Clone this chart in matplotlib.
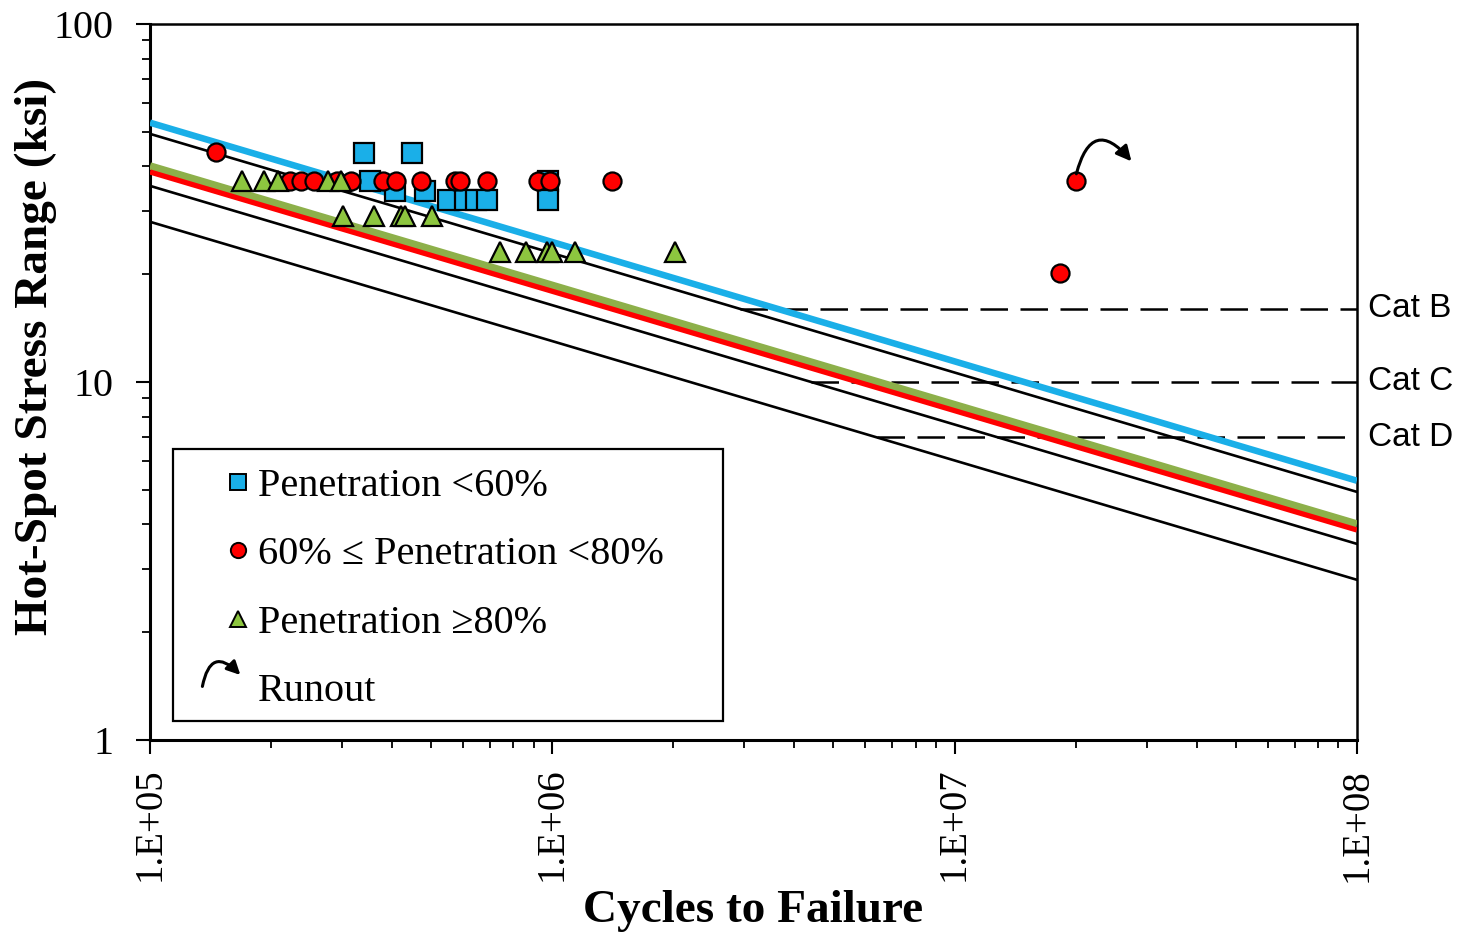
import numpy as np
import matplotlib

matplotlib.use("Agg")
import matplotlib.pyplot as plt  # noqa: E402
from matplotlib.lines import Line2D  # noqa: E402
from matplotlib.patches import Rectangle  # noqa: E402
from matplotlib.ticker import LogLocator, NullFormatter, FixedLocator  # noqa: E402

# ---------------------------------------------------------------- test data
# penetration < 60 %
sq_N = [3.41e5, 4.47e5, 3.52e5, 9.76e5, 4.06e5, 4.83e5,
        5.52e5, 6.07e5, 6.46e5, 6.89e5, 9.77e5]
sq_S = [43.6, 43.6, 36.4, 36.4, 34.2, 34.2,
        32.2, 32.2, 32.2, 32.2, 32.2]

# 60 % <= penetration < 80 %
ci_N = [1.46e5, 2.23e5, 2.38e5, 2.56e5, 2.92e5, 3.16e5, 3.80e5, 4.08e5,
        4.73e5, 5.73e5, 5.90e5, 6.89e5, 9.23e5, 9.87e5, 1.41e6, 1.83e7]
ci_S = [43.9, 36.4, 36.4, 36.4, 36.4, 36.4, 36.4, 36.4,
        36.4, 36.4, 36.4, 36.4, 36.4, 36.4, 36.4, 20.1]

# penetration >= 80 %
tr_N = [1.69e5, 1.92e5, 2.08e5, 2.77e5, 2.98e5,
        3.02e5, 3.61e5, 4.21e5, 4.30e5, 5.01e5,
        7.41e5, 8.61e5, 9.68e5, 9.97e5, 1.14e6, 2.02e6]
tr_S = [36.4, 36.4, 36.4, 36.4, 36.4,
        29.1, 29.1, 29.1, 29.1, 29.1,
        23.1, 23.1, 23.1, 23.1, 23.1, 23.1]

# runout (red circle, did not fail)
run_N = [2.0e7]
run_S = [36.4]

# ------------------------------------------------------------ S-N curves
# AASHTO detail categories: A constant (ksi^3) and CAFL (ksi)
cat_names = ["Cat B", "Cat C", "Cat D"]
cat_A = [120e8, 44e8, 22e8]
cat_cafl = [16.0, 10.0, 7.0]

# fitted curves (stress range at 1e5 cycles, slope 3)
fit_S1e5 = [53.0, 40.1, 38.6]
fit_colors = ["#1AAFE8", "#8DB04A", "#FF0000"]
fit_lw = [4.7, 5.5, 3.8]

N_line = np.array([1e5, 1e8])

fig = plt.figure(figsize=(14.59, 9.36), dpi=100)
ax = fig.add_axes([0.1028, 0.2094, 0.8272, 0.7650])

for A in cat_A:
    ax.plot(N_line, (A / N_line) ** (1 / 3), color="black", lw=1.9, zorder=2)

for S0, c, lw in zip(fit_S1e5, fit_colors, fit_lw):
    A = S0 ** 3 * 1e5
    ax.plot(N_line, (A / N_line) ** (1 / 3), color=c, lw=lw, zorder=3,
            solid_capstyle="butt")

for name, A, cafl in zip(cat_names, cat_A, cat_cafl):
    n0 = A / cafl ** 3
    ax.plot([n0, 1e8], [cafl, cafl], color="black", lw=1.8,
            dashes=(11, 5), zorder=2)
    ax.text(1.065e8, cafl, name, fontsize=24, family="Liberation Sans",
            va="center", ha="left", clip_on=False)

ax.plot(sq_N, sq_S, ls="none", marker="s", ms=14, mfc="#1AAFE8", mec="black",
        mew=1.6, zorder=5)
ax.plot(ci_N + run_N, ci_S + run_S, ls="none", marker="o", ms=13, mfc="#FF0000",
        mec="black", mew=1.6, zorder=6)
ax.plot(tr_N, tr_S, ls="none", marker="^", ms=15, mfc="#8DC63F", mec="black",
        mew=1.6, zorder=7)

# runout arrow
for n, s in zip(run_N, run_S):
    ax.annotate("", xy=(n * 1.39, s * 1.12), xytext=(n, s * 1.03),
                arrowprops=dict(arrowstyle="-|>,head_length=0.9,head_width=0.45",
                                connectionstyle="arc3,rad=-1.0",
                                color="black", lw=2.2), zorder=8)

ax.set_xscale("log")
ax.set_yscale("log")
ax.set_xlim(1e5, 1e8)
ax.set_ylim(1, 100)

ax.xaxis.set_major_locator(FixedLocator([1e5, 1e6, 1e7, 1e8]))
ax.set_xticklabels(["1.E+05", "1.E+06", "1.E+07", "1.E+08"], rotation=90,
                   family="Liberation Serif", fontsize=28)
ax.xaxis.set_minor_locator(LogLocator(base=10, subs=np.arange(2, 10)))
ax.xaxis.set_minor_formatter(NullFormatter())
ax.yaxis.set_major_locator(FixedLocator([1, 10, 100]))
ax.set_yticklabels(["1", "10", "100"], family="Liberation Serif", fontsize=29)
ax.yaxis.set_minor_locator(LogLocator(base=10, subs=np.arange(2, 10)))
ax.yaxis.set_minor_formatter(NullFormatter())

ax.tick_params(which="major", direction="out", length=10, width=1.5)
ax.tick_params(which="minor", direction="out", length=6, width=1.3)
ax.tick_params(axis="y", which="major", pad=16)
ax.tick_params(axis="x", which="major", pad=10)
for side in ["left", "bottom"]:
    ax.spines[side].set_linewidth(2.2)
for side in ["top", "right"]:
    ax.spines[side].set_linewidth(1.8)

ax.set_xlabel("Cycles to Failure", family="Liberation Serif", fontsize=34,
              fontweight="bold", labelpad=6)
ax.set_ylabel("Hot-Spot Stress Range (ksi)", family="Liberation Serif",
              fontsize=34, fontweight="bold")
ax.yaxis.set_label_coords(-0.077, 0.535)

# legend: frame drawn separately so the box is wider than its contents
ax.add_patch(Rectangle((0.019, 0.0265), 0.456, 0.3795, transform=ax.transAxes,
                       facecolor="white", edgecolor="black", lw=1.6, zorder=9))

handles = [
    Line2D([], [], ls="none", marker="s", ms=11, mfc="#1AAFE8", mec="black", mew=1.4),
    Line2D([], [], ls="none", marker="o", ms=11, mfc="#FF0000", mec="black", mew=1.4),
    Line2D([], [], ls="none", marker="^", ms=12, mfc="#8DC63F", mec="black", mew=1.4),
    Line2D([], [], ls="none"),
]
labels = ["Penetration <60%", "60% \u2264 Penetration <80%",
          "Penetration \u226580%", "Runout"]
leg = ax.legend(handles, labels, loc="upper left",
                bbox_to_anchor=(0.0414, 0.406),
                prop=dict(family="Liberation Serif", size=29), frameon=False,
                borderpad=0.45, labelspacing=0.78, handletextpad=0.0,
                handlelength=1.0, borderaxespad=0)
leg.set_zorder(10)

# runout symbol inside the legend
ax.annotate("", xy=(0.0765, 0.088), xytext=(0.043, 0.071),
            xycoords="axes fraction",
            arrowprops=dict(arrowstyle="-|>,head_length=0.8,head_width=0.4",
                            connectionstyle="arc3,rad=-1.0",
                            color="black", lw=2.2), zorder=11)

fig.savefig("out.png", dpi=100)
